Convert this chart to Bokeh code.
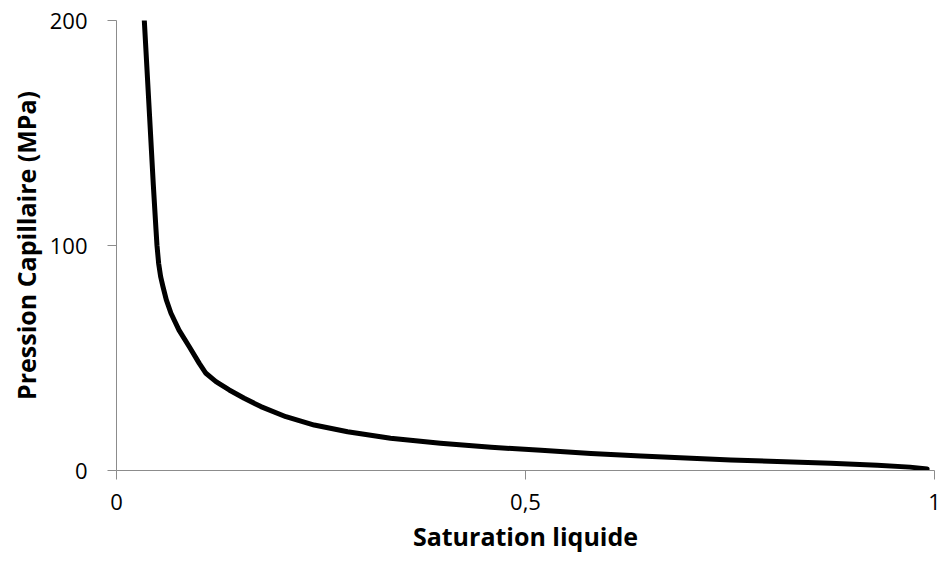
from bokeh.plotting import figure
from bokeh.models import Range1d, FixedTicker
from bokeh.embed import file_html
from bokeh.resources import INLINE

saturation = [0.034, 0.0405, 0.045, 0.0483, 0.0495, 0.0515, 0.054, 0.0568, 0.0609,
              0.0666, 0.0764, 0.089, 0.1012, 0.1093, 0.1216, 0.1378, 0.1561, 0.1765,
              0.2071, 0.2417, 0.2825, 0.335, 0.396, 0.458, 0.519, 0.580, 0.641,
              0.751, 0.873, 0.930, 0.970, 0.991]
pression = [200, 157, 127, 107, 100, 92.1, 86.1, 81.7, 75.8,
             69.9, 62.4, 55.0, 47.6, 43.2, 39.5, 35.8, 32.1, 28.4,
             23.9, 20.2, 17.2, 14.3, 12.1, 10.3, 9.0, 7.6, 6.4,
             4.7, 3.2, 2.3, 1.5, 0.7]
x_ticks = [0, 0.5, 1]
x_labels = {0: "0", 0.5: "0,5", 1: "1"}
y_ticks = [0, 100, 200]

p = figure(width=942, height=563, output_backend="svg", toolbar_location=None,
           x_range=Range1d(0, 1), y_range=Range1d(0, 200),
           min_border_left=116, min_border_right=8, min_border_top=20, min_border_bottom=93)
p.outline_line_color = None
p.grid.grid_line_color = None

p.line(saturation, pression, line_width=5, line_color="black", line_join="round", line_cap="round")

axis_color = "#8c8c8c"
for ax in (p.xaxis, p.yaxis):
    ax.axis_line_color = axis_color
    ax.major_tick_line_color = axis_color
    ax.minor_tick_line_color = None
    ax.major_tick_in = 0
    ax.major_tick_out = 9
    ax.major_label_text_font = "Open Sans"
    ax.major_label_text_font_size = "22px"
    ax.major_label_text_color = "black"
    ax.axis_label_text_font = "Open Sans"
    ax.axis_label_text_font_size = "25px"
    ax.axis_label_text_font_style = "bold"
    ax.axis_label_text_color = "black"

p.xaxis.ticker = FixedTicker(ticks=x_ticks)
p.xaxis.major_label_overrides = x_labels
p.yaxis.ticker = FixedTicker(ticks=y_ticks)
p.xaxis.axis_label = "Saturation liquide"
p.yaxis.axis_label = "Pression Capillaire (MPa)"
p.xaxis.major_label_standoff = 14
p.yaxis.major_label_standoff = 20
p.xaxis.axis_label_standoff = 6
p.yaxis.axis_label_standoff = 4

open("out.html", "w").write(file_html(p, INLINE))
